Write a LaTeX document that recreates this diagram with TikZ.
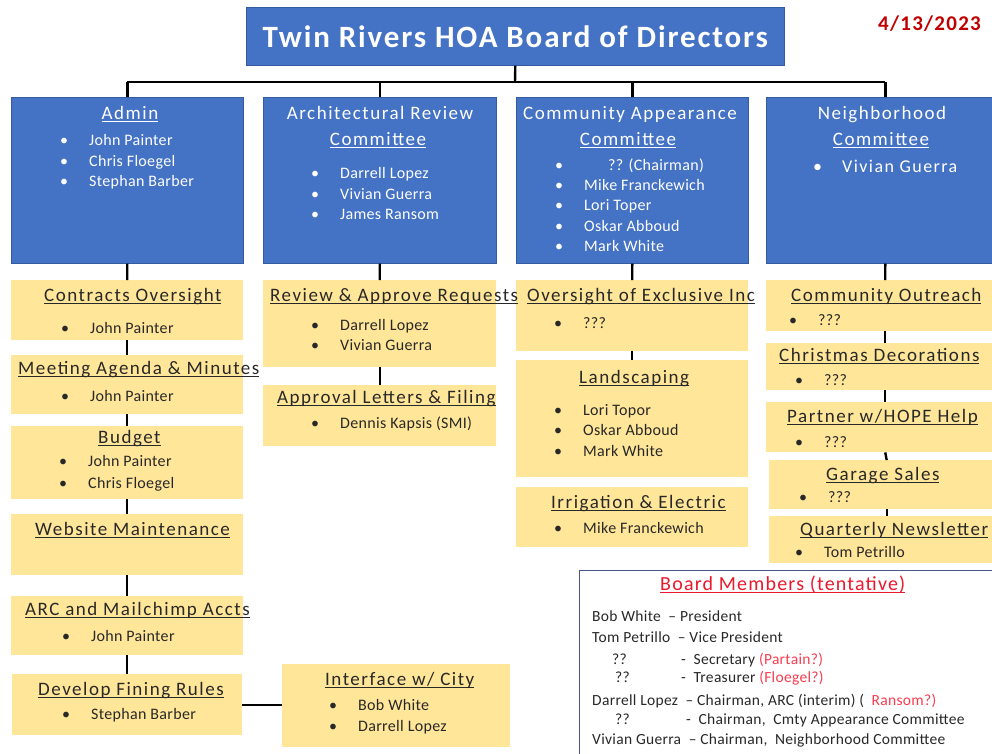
\documentclass[tikz,border=0pt]{standalone}
\usepackage{fontspec}
\setmainfont{Carlito}
\newfontfamily\spacedfont[LetterSpace=6]{Carlito}
\newfontfamily\headfont[LetterSpace=8]{Carlito}
\newfontfamily\itemfont[LetterSpace=2]{Carlito}
\usetikzlibrary{positioning}
\definecolor{hoablue}{RGB}{68,114,196}
\definecolor{hoaedge}{RGB}{52,90,160}
\definecolor{hoayellow}{RGB}{255,230,153}
\definecolor{hoatext}{RGB}{40,40,40}
\definecolor{hoadate}{RGB}{192,0,0}
\definecolor{hoared}{RGB}{235,25,45}
\definecolor{hoapink}{RGB}{250,60,80}
\definecolor{hoanavy}{RGB}{70,88,135}

\newcommand{\bul}{\makebox[29pt][l]{\textbullet}}
\newcommand{\hdul}[1]{\setbox0\hbox{#1}\rlap{\rule[-2.2pt]{\wd0}{0.9pt}}\box0}

\begin{document}
\begin{tikzpicture}[x=1pt, y=-1pt,
    panel/.style 2 args={anchor=north west, inner sep=0pt, minimum width=#1pt, minimum height=#2pt},
    bluebox/.style={draw=hoaedge, line width=0.6pt, fill=hoablue},
    taskbox/.style={fill=hoayellow},
    link/.style={line width=2.4pt, black},
    bhead/.style={font=\headfont\fontsize{19}{22}\selectfont, text=white, anchor=mid, inner sep=0pt, yshift=-3pt},
    bitem/.style={font=\itemfont\fontsize{16}{19}\selectfont, text=white, anchor=mid west, inner sep=0pt, yshift=-3pt},
    thead/.style={font=\headfont\fontsize{19}{22}\selectfont, text=hoatext, anchor=mid west, inner sep=0pt, yshift=-3pt},
    titem/.style={font=\itemfont\fontsize{16}{19}\selectfont, text=hoatext, anchor=mid west, inner sep=0pt, yshift=-3pt},
    member/.style={font=\itemfont\fontsize{15.5}{18}\selectfont, text=hoatext, anchor=mid west, inner sep=0pt, yshift=-3pt}]
\useasboundingbox (0,0) rectangle (992,753);

% boxes
\node[panel={538}{58}, bluebox, font=\bfseries\spacedfont\fontsize{31}{34}\selectfont, text=white] (title) at (246,7) {Twin Rivers HOA Board of Directors};
\node[anchor=mid west, inner sep=0pt, yshift=-3pt, font=\bfseries\spacedfont\fontsize{21}{23}\selectfont, text=hoadate] (date) at (878,25) {4/13/2023};
\coordinate (bus) at (515,82);

\node[panel={232}{166}, bluebox] (admin) at (11,97) {};
\node[panel={233}{166}, bluebox] (arc) at (263,97) {};
\node[panel={232}{166}, bluebox] (cac) at (516,97) {};
\node[panel={238}{166}, bluebox] (nbh) at (766,97) {};

\node[panel={232}{60}, taskbox] (contracts) at (11,280) {};
\node[panel={232}{59}, taskbox] (agenda) at (11,355) {};
\node[panel={232}{73}, taskbox] (budget) at (11,426) {};
\node[panel={232}{61}, taskbox] (website) at (11,514) {};
\node[panel={232}{59}, taskbox] (mailchimp) at (11,596) {};
\node[panel={230}{61}, taskbox] (fining) at (12,674) {};
\node[panel={228}{83}, taskbox] (city) at (282,664) {};

\node[panel={233}{87}, taskbox] (review) at (263,280) {};
\node[panel={233}{61}, taskbox] (letters) at (263,385) {};

\node[panel={232}{71}, taskbox] (exclusive) at (516,280) {};
\node[panel={232}{117}, taskbox] (landscape) at (516,360) {};
\node[panel={232}{60}, taskbox] (irrigation) at (516,487) {};

\node[panel={238}{51}, taskbox] (outreach) at (766,280) {};
\node[panel={238}{47}, taskbox] (xmas) at (766,343) {};
\node[panel={238}{50}, taskbox] (hope) at (766,402) {};
\node[panel={235}{49}, taskbox] (garage) at (769,460) {};
\node[panel={235}{47}, taskbox] (newsletter) at (769,516) {};

\node[panel={430}{200}, draw=hoanavy, line width=1pt, fill=white] (members) at (579,570) {};

% connectors
\draw[link] (title.south) -- (bus);
\draw[link] (admin.north |- bus) -- (nbh.north |- bus);
\draw[link] (admin.north) -- (admin.north |- bus);
\draw[link] (arc.north) -- (arc.north |- bus);
\draw[link] (cac.north) -- (cac.north |- bus);
\draw[link] (nbh.north) -- (nbh.north |- bus);

\draw[link] (admin.south) -- (contracts.north);
\draw[link] (contracts.south) -- (agenda.north);
\draw[link] (agenda.south) -- (budget.north);
\draw[link] (budget.south) -- (website.north);
\draw[link] (website.south) -- (mailchimp.north);
\draw[link] (mailchimp.south) -- (fining.north);
\draw[line width=1.6pt] (fining.east) -- (fining.east -| city.west);

\draw[link] (arc.south) -- (review.north);
\draw[link] (review.south) -- (letters.north);

\draw[link] (cac.south) -- (exclusive.north);
\draw[link] (exclusive.south) -- (landscape.north);

\draw[link] (nbh.south) -- (outreach.north);
\draw[link] (outreach.south) -- (xmas.north);
\draw[link] (xmas.south) -- (hope.north);
\draw[link] (hope.south) -- (garage.north);
\draw[link] (garage.south) -- (newsletter.north);

% committee texts
\node[bhead] (adminT) at (130,114) {\hdul{Admin}};
\node[bitem] (admin1) at (60,140) {\bul John Painter};
\node[bitem] (admin2) at (60,161) {\bul Chris Floegel};
\node[bitem] (admin3) at (60,181) {\bul Stephan Barber};

\node[bhead] (arcT) at (380,114) {Architectural Review};
\node[bhead] (arcU) at (378,140) {\hdul{Committee}};
\node[bitem] (arc1) at (311,173) {\bul Darrell Lopez};
\node[bitem] (arc2) at (311,194) {\bul Vivian Guerra};
\node[bitem] (arc3) at (311,214) {\bul James Ransom};

\node[bhead] (cacT) at (630,114) {Community Appearance};
\node[bhead] (cacU) at (628,140) {\hdul{Committee}};
\node[bitem] (cac1) at (555,165) {\makebox[53pt][l]{\textbullet}?? (Chairman)};
\node[bitem] (cac2) at (555,185) {\bul Mike Franckewich};
\node[bitem] (cac3) at (555,205) {\bul Lori Toper};
\node[bitem] (cac4) at (555,226) {\bul Oskar Abboud};
\node[bitem] (cac5) at (555,246) {\bul Mark White};

\node[bhead] (nbhT) at (882,114) {Neighborhood};
\node[bhead] (nbhU) at (881,140) {\hdul{Committee}};
\node[bitem, font=\headfont\fontsize{18}{21}\selectfont] (nbh1) at (813,167) {\bul Vivian Guerra};

% task texts
\node[thead] (contractsT) at (44,296) {\hdul{Contracts Oversight}};
\node[titem] (contracts1) at (61,328) {\bul John Painter};
\node[thead] (agendaT) at (18,369) {\hdul{Meeting Agenda \& Minutes}};
\node[titem] (agenda1) at (61,396) {\bul John Painter};
\node[thead] (budgetT) at (98,438) {\hdul{Budget}};
\node[titem] (budget1) at (59,461) {\bul John Painter};
\node[titem] (budget2) at (59,483) {\bul Chris Floegel};
\node[thead] (websiteT) at (35,530) {\hdul{Website Maintenance}};
\node[thead] (mailchimpT) at (25,610) {\hdul{ARC and Mailchimp Accts}};
\node[titem] (mailchimp1) at (62,636) {\bul John Painter};
\node[thead] (finingT) at (38,690) {\hdul{Develop Fining Rules}};
\node[titem] (fining1) at (62,714) {\bul Stephan Barber};
\node[thead] (cityT) at (325,680) {\hdul{Interface w/ City}};
\node[titem] (city1) at (329,705) {\bul Bob White};
\node[titem] (city2) at (329,726) {\bul Darrell Lopez};

\node[thead] (reviewT) at (270,296) {\hdul{Review \& Approve Requests}};
\node[titem] (review1) at (311,325) {\bul Darrell Lopez};
\node[titem] (review2) at (311,345) {\bul Vivian Guerra};
\node[thead] (lettersT) at (277,398) {\hdul{Approval Letters \& Filing}};
\node[titem] (letters1) at (311,423) {\bul Dennis Kapsis (SMI)};

\node[thead] (exclusiveT) at (527,296) {\hdul{Oversight of Exclusive Inc}};
\node[titem] (exclusive1) at (554,323) {\bul ???};
\node[thead] (landscapeT) at (579,378) {\hdul{Landscaping}};
\node[titem] (landscape1) at (554,410) {\bul Lori Topor};
\node[titem] (landscape2) at (554,430) {\bul Oskar Abboud};
\node[titem] (landscape3) at (554,451) {\bul Mark White};
\node[thead] (irrigationT) at (551,503) {\hdul{Irrigation \& Electric}};
\node[titem] (irrigation1) at (554,528) {\bul Mike Franckewich};

\node[thead] (outreachT) at (791,296) {\hdul{Community Outreach}};
\node[titem] (outreach1) at (789,320) {\bul ???};
\node[thead] (xmasT) at (779,356) {\hdul{Christmas Decorations}};
\node[titem] (xmas1) at (795,380) {\bul ???};
\node[thead] (hopeT) at (787,417) {\hdul{Partner w/HOPE Help}};
\node[titem] (hope1) at (795,442) {\bul ???};
\node[thead] (garageT) at (826,475) {\hdul{Garage Sales}};
\node[titem] (garage1) at (799,497) {\bul ???};
\node[thead] (newsletterT) at (800,530) {\hdul{Quarterly Newsletter}};
\node[titem] (newsletter1) at (795,552) {\bul Tom Petrillo};

% board members
\node[anchor=mid west, inner sep=0pt, yshift=-3pt, font=\spacedfont\fontsize{20}{22}\selectfont, text=hoared] (membersT) at (660,585) {\hdul{Board Members (tentative)}};
\node[member] (m1) at (592,616) {Bob White \ – President};
\node[member] (m2) at (592,637) {Tom Petrillo \ – Vice President};
\node[member] (m3) at (612,659) {\makebox[69pt][l]{??}- \ Secretary \textcolor{hoapink}{(Partain?)}};
\node[member] (m4) at (615,677) {\makebox[66pt][l]{??}- \ Treasurer \textcolor{hoapink}{(Floegel?)}};
\node[member] (m5) at (592,700) {Darrell Lopez \ – Chairman, ARC (interim) ( \ \textcolor{hoapink}{Ransom?)}};
\node[member] (m6) at (615,719) {\makebox[71pt][l]{??}- \ Chairman, \ Cmty Appearance Committee};
\node[member] (m7) at (592,739) {Vivian Guerra \ – Chairman, \ Neighborhood Committee};
\end{tikzpicture}
\end{document}
